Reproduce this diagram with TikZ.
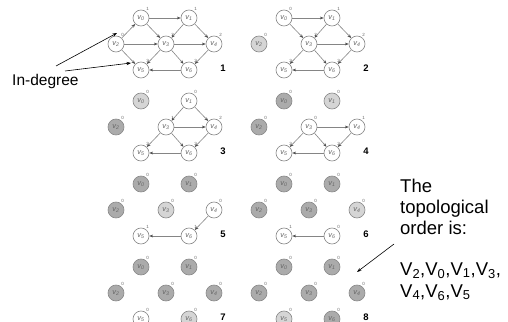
\documentclass[tikz,border=0pt]{standalone}
\usepackage{fontspec}
\setmainfont{Liberation Sans}
\usetikzlibrary{arrows.meta}

\definecolor{ringgray}{HTML}{8A8A8A}
\definecolor{arcgray}{HTML}{858585}
\definecolor{tipgray}{HTML}{4A4A4A}
\definecolor{labelgray}{HTML}{666666}
\definecolor{newgray}{HTML}{D5D5D5}
\definecolor{oldgray}{HTML}{ABABAB}

\tikzset{
  vert/.style={circle, draw=ringgray, line width=0.65pt, fill=white,
    minimum size=16pt, inner sep=0pt, text=labelgray,
    font=\fontsize{7.5}{8}\selectfont\itshape},
  fresh/.style={vert, fill=newgray},
  gone/.style={vert, fill=oldgray},
  degtag/.style={inner sep=0pt, text=labelgray, font=\fontsize{4.5}{5}\selectfont},
  link/.style={draw=arcgray, line width=0.6pt,
    -{Stealth[length=3.8pt,width=2.9pt,color=tipgray]}},
  pnum/.style={inner sep=0pt, font=\fontsize{9.5}{10}\selectfont\bfseries},
  callout/.style={draw=black, line width=0.6pt, -{Stealth[length=4.5pt,width=3.2pt]}},
  bigtext/.style={anchor=base west, inner sep=0pt, font=\fontsize{18.5}{22}\selectfont},
}

% offsets of v0..v6 inside one panel
\newcommand\vxoff[1]{\ifcase#1 25\or 73\or 0\or 50\or 98\or 25\or 73\fi}
\newcommand\vyoff[1]{\ifcase#1 0\or 0\or 26\or 26\or 26\or 52\or 52\fi}

% #1 name prefix, #2/#3 panel origin, #4 style/in-degree of v0..v6, #5 step number
\newcommand\graphpanel[5]{%
  \foreach \s/\d [count=\k from 0] in {#4} {
    \edef\px{\vxoff{\k}}\edef\py{\vyoff{\k}}
    \node[\s] (#1v\k) at ({#2+\px},{#3+\py}) {v\textsubscript{\k}};
    \node[degtag] (#1d\k) at ([shift={(6.5,-9.5)}]#1v\k.center) {\d};
  }
  \node[pnum] (#1n) at ({#2+107},{#3+50}) {#5};
}
\newcommand\graphlinks[2]{\foreach \a/\b in {#2} {\draw[link] (#1v\a) -- (#1v\b);}}

\begin{document}
\begin{tikzpicture}[x=1pt,y=-1pt]
\useasboundingbox (0,0) rectangle (508,321);
\clip (0,0) rectangle (508,321);

% step 1: the whole graph
\graphpanel{a}{116}{18}{vert/1,vert/1,vert/0,vert/3,vert/2,vert/3,vert/2}{1}
\graphlinks{a}{0/1,0/3,1/3,1/4,2/0,2/3,2/5,3/4,3/5,3/6,4/6,6/5}

% step 2: v2 removed
\graphpanel{b}{259}{18}{vert/0,vert/1,fresh/0,vert/2,vert/2,vert/2,vert/2}{2}
\graphlinks{b}{0/1,0/3,1/3,1/4,3/4,3/5,3/6,4/6,6/5}

% step 3: v0 removed
\graphpanel{c}{116}{101}{fresh/0,vert/0,gone/0,vert/1,vert/2,vert/2,vert/2}{3}
\graphlinks{c}{1/3,1/4,3/4,3/5,3/6,4/6,6/5}

% step 4: v1 removed
\graphpanel{d}{259}{101}{gone/0,fresh/0,gone/0,vert/0,vert/1,vert/2,vert/2}{4}
\graphlinks{d}{3/4,3/5,3/6,4/6,6/5}

% step 5: v3 removed
\graphpanel{e}{116}{184}{gone/0,gone/0,gone/0,fresh/0,vert/0,vert/1,vert/1}{5}
\graphlinks{e}{4/6,6/5}

% step 6: v4 removed
\graphpanel{f}{259}{184}{gone/0,gone/0,gone/0,gone/0,fresh/0,vert/1,vert/0}{6}
\graphlinks{f}{6/5}

% step 7: v6 removed
\graphpanel{g}{116}{267}{gone/0,gone/0,gone/0,gone/0,gone/0,vert/0,fresh/0}{7}

% step 8: v5 removed
\graphpanel{h}{259}{267}{gone/0,gone/0,gone/0,gone/0,gone/0,fresh/0,gone/0}{8}

% in-degree callout
\node[anchor=base west, inner sep=0pt, font=\fontsize{15.5}{18}\selectfont] (indeg) at (12,85) {In-degree};
\coordinate (ia) at (56,66);
\coordinate (ib) at (65,71);
\coordinate (ta) at (117,33);
\coordinate (tb) at (131,63);
\draw[callout] (ia) -- (ta);
\draw[callout] (ib) -- (tb);

% resulting order
\node[bigtext] (t1) at (400,192) {The};
\node[bigtext] (t2) at (400,213) {topological};
\node[bigtext] (t3) at (400,234) {order is:};
\node[bigtext] (t4) at (400,275) {V\textsubscript{2},V\textsubscript{0},V\textsubscript{1},V\textsubscript{3},};
\node[bigtext] (t5) at (400,297) {V\textsubscript{4},V\textsubscript{6},V\textsubscript{5}};
\coordinate (oa) at (394,244);
\coordinate (ob) at (357,272);
\draw[callout] (oa) -- (ob);
\end{tikzpicture}
\end{document}
